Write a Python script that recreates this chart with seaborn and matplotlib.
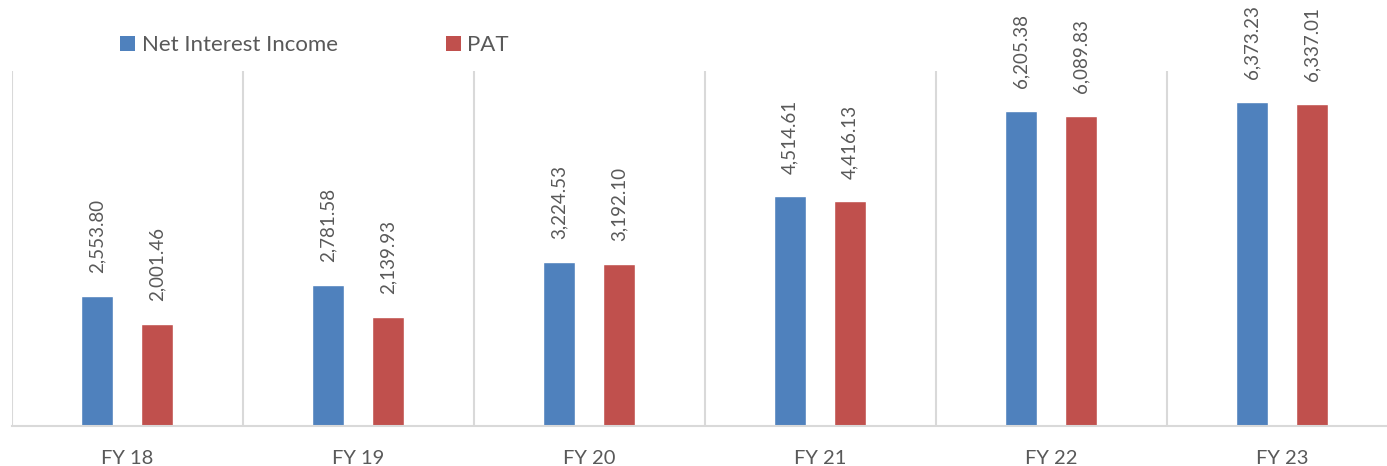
import matplotlib
matplotlib.use("Agg")
import matplotlib.pyplot as plt
import seaborn as sns
import pandas as pd
from matplotlib.patches import Patch

years = ["FY 18", "FY 19", "FY 20", "FY 21", "FY 22", "FY 23"]
nii = [2553.80, 2781.58, 3224.53, 4514.61, 6205.38, 6373.23]
pat = [2001.46, 2139.93, 3192.10, 4416.13, 6089.83, 6337.01]
series = ["Net Interest Income", "PAT"]
colors = ["#4F81BD", "#C0504D"]

df = pd.DataFrame({
    "year": years * 2,
    "series": [series[0]] * len(years) + [series[1]] * len(years),
    "value": nii + pat,
})

sns.set_theme(style="white")
plt.rcParams["font.family"] = ["Lato", "DejaVu Sans"]

W, H = 1387, 466
fig = plt.figure(figsize=(W / 100, H / 100), dpi=100)
ax = fig.add_axes([11.5 / W, 40 / H, 1386 / W, 355 / H])

sns.barplot(data=df, x="year", y="value", hue="series", palette=colors,
            width=0.52, gap=0.467, ax=ax, legend=False, saturation=1)

ax.set_xlim(-0.5, 5.5)
ax.set_ylim(0, 6983)

for i in range(len(years)):
    ax.axvline(i - 0.5, color="#d9d9d9", lw=1.5, zorder=0)

for c in ax.containers:
    ax.bar_label(c, labels=[f"{v:,.2f}" for v in c.datavalues], rotation=90,
                 padding=16.5, color="#595959", fontsize=13.5)

for s in ["top", "right", "left"]:
    ax.spines[s].set_visible(False)
ax.spines["bottom"].set_color("#d9d9d9")
ax.spines["bottom"].set_linewidth(1.5)
ax.set_yticks([])
ax.set_xlabel("")
ax.set_ylabel("")
ax.tick_params(axis="x", length=0, pad=17, labelsize=14.5, labelcolor="#595959")

handles = [Patch(facecolor=c, edgecolor="none") for c in colors]
fig.legend(handles, series, loc="center left", ncol=2, frameon=False,
           bbox_to_anchor=(120 / W, 1 - 45 / H), bbox_transform=fig.transFigure,
           borderpad=0, borderaxespad=0, handlelength=0.68, handleheight=0.68,
           handletextpad=0.3, columnspacing=4.85, fontsize=16,
           labelcolor="#595959")

fig.savefig("out.png", dpi=100)
